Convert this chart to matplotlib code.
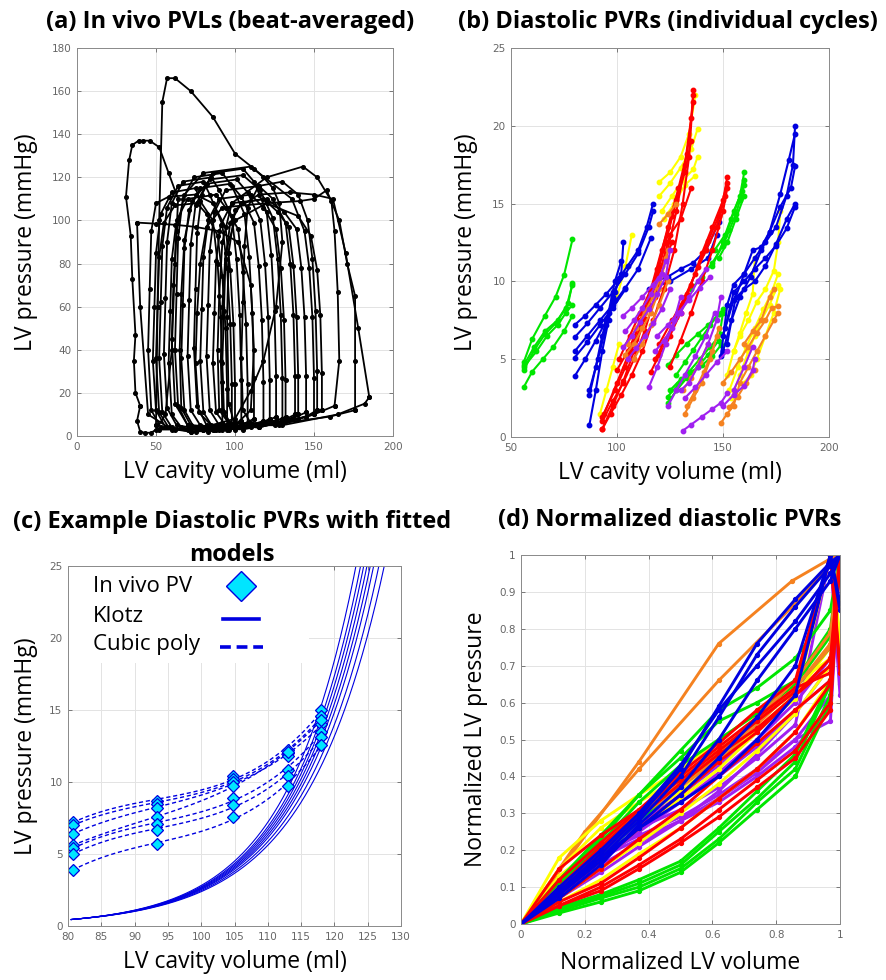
import numpy as np
import matplotlib
matplotlib.use('Agg')
from matplotlib import pyplot as plt
from matplotlib.patches import Rectangle

# ---- (a) beat-averaged PV loops (volume ml, pressure mmHg)
a_vol = [
    [92, 92, 91, 89, 86, 78, 75, 60, 53, 50, 49, 48, 50, 56, 70, 84],
    [98, 98, 97, 95, 92, 84, 80, 64, 57, 54, 53, 52, 54, 60, 75, 90],
    [104, 104, 103, 101, 98, 90, 85, 67, 60, 57, 56, 55, 57, 63, 80, 96],
    [108, 108, 107, 105, 102, 94, 88, 70, 63, 60, 59, 58, 60, 66, 83, 100],
    [112, 112, 111, 109, 106, 98, 92, 74, 67, 64, 63, 62, 64, 70, 87, 104],
    [118, 118, 117, 115, 112, 104, 97, 78, 71, 68, 67, 66, 68, 74, 92, 110],
    [122, 122, 121, 119, 116, 108, 101, 82, 75, 72, 71, 70, 72, 78, 96, 114],
    [126, 126, 125, 123, 120, 112, 105, 86, 79, 76, 75, 74, 76, 82, 100, 118],
    [132, 132, 131, 129, 126, 118, 110, 90, 83, 80, 79, 78, 80, 86, 105, 124],
    [138, 138, 137, 135, 132, 124, 115, 94, 87, 84, 83, 82, 84, 90, 110, 130],
    [145, 145, 144, 142, 139, 131, 120, 98, 91, 88, 87, 86, 88, 94, 115, 136],
    [150, 150, 149, 147, 144, 136, 110, 80, 68, 63, 61, 60, 62, 70, 105, 140],
    [155, 155, 154, 152, 148, 140, 120, 92, 82, 78, 76, 75, 77, 85, 115, 145],
    [163, 166, 165, 163, 161, 152, 143, 120, 98, 92, 90, 89, 90, 96, 125, 150],
    [176, 176, 176, 171, 166, 158, 150, 141, 120, 100, 94, 92, 91, 92, 96, 130, 160],
    [185, 178, 170, 162, 150, 135, 115, 100, 96, 95, 96, 100, 130, 165, 182],
    [40, 37, 36, 37, 35, 34, 31, 33, 35, 39, 42, 46, 52, 58, 64, 62, 60, 56, 50, 47, 43, 40, 38],
    [50, 51, 52, 54, 57, 62, 72, 86, 100, 112, 118, 124, 128, 130, 126, 118, 110, 100, 80, 62, 52],
    [100, 100, 99, 97, 94, 86, 75, 58, 50, 47, 46, 45, 47, 53, 72, 88],
    [152, 152, 151, 149, 146, 140, 130, 115, 108, 106, 105, 104, 105, 110, 128, 145],
    [38, 50, 62, 75, 90, 102, 110, 112, 110, 100, 80, 60, 45, 40],
    [95, 95, 94, 92, 89, 82, 76, 62, 55, 52, 51, 50, 52, 58, 72, 86],
    [130, 130, 129, 127, 124, 116, 105, 84, 73, 68, 66, 65, 66, 72, 95, 118],
    [140, 140, 139, 137, 134, 127, 118, 104, 97, 94, 93, 92, 93, 98, 115, 132],
]
a_prs = [
    [6, 25, 55, 80, 100, 109, 115, 113, 103, 85, 60, 35, 12, 4, 3, 4],
    [5, 24, 52, 78, 98, 112, 118, 116, 106, 88, 62, 36, 11, 4, 2, 3],
    [7, 26, 56, 82, 102, 114, 120, 118, 108, 90, 64, 38, 13, 5, 3, 5],
    [6, 24, 52, 76, 96, 106, 112, 110, 100, 82, 58, 34, 10, 4, 2, 4],
    [8, 27, 57, 83, 103, 116, 122, 120, 110, 92, 66, 40, 14, 5, 3, 5],
    [7, 25, 54, 79, 99, 111, 117, 115, 105, 87, 61, 36, 12, 4, 3, 5],
    [8, 26, 55, 80, 100, 113, 119, 117, 107, 89, 63, 37, 12, 5, 3, 5],
    [9, 28, 58, 84, 104, 118, 124, 122, 112, 94, 68, 41, 14, 5, 3, 6],
    [9, 26, 54, 78, 96, 106, 112, 110, 100, 83, 59, 35, 11, 4, 3, 6],
    [10, 28, 56, 80, 99, 110, 116, 114, 104, 86, 61, 37, 12, 5, 4, 7],
    [11, 28, 55, 78, 96, 104, 110, 108, 98, 81, 57, 34, 11, 5, 4, 8],
    [10, 27, 55, 78, 95, 110, 125, 122, 112, 95, 70, 45, 15, 5, 4, 8],
    [12, 29, 56, 77, 93, 102, 108, 106, 97, 80, 57, 34, 11, 5, 4, 9],
    [14, 35, 67, 95, 109, 120, 125, 120, 108, 90, 65, 40, 12, 6, 5, 10],
    [12, 35, 65, 80, 100, 114, 110, 109, 108, 100, 85, 60, 35, 12, 6, 6, 9],
    [18, 50, 85, 110, 112, 113, 112, 105, 85, 55, 15, 5, 5, 10, 15],
    [14, 20, 35, 47, 73, 93, 111, 128, 135, 137, 137, 137, 134, 122, 110, 80, 40, 10, 3, 1.5, 1.5, 2, 7],
    [5, 60, 100, 155, 166, 166, 160, 148, 131, 124, 120, 115, 108, 90, 60, 35, 21, 8, 4, 3, 3],
    [6, 24, 52, 77, 97, 108, 112, 111, 108, 95, 68, 40, 12, 4, 2, 3],
    [12, 30, 58, 82, 100, 112, 118, 116, 106, 88, 62, 36, 12, 6, 5, 9],
    [99, 98.5, 98, 97, 95, 90, 70, 40, 12, 5, 3, 3, 10, 60],
    [5, 22, 50, 74, 93, 103, 108, 107, 99, 83, 60, 36, 11, 4, 2, 3],
    [8, 27, 56, 82, 101, 114, 121, 119, 109, 91, 66, 40, 13, 5, 3, 6],
    [10, 28, 55, 79, 97, 104, 110, 108, 99, 82, 58, 34, 11, 5, 4, 7],
]

# ---- (b) diastolic PVRs, individual cycles, grouped by colour
green_vol = [
    [56, 62, 67, 72, 76, 79], [56, 60, 65, 70, 75, 79], [56, 60, 66, 71, 75, 79],
    [56, 61, 66, 71, 76, 79], [56, 61, 66, 72, 77, 79],
    [124, 128, 133, 138, 143, 148, 150], [124, 129, 134, 139, 144, 149],
    [124, 128, 133, 138, 143, 148], [125, 130, 135, 140, 145, 149],
    [145, 150, 154, 158, 160], [146, 151, 155, 159, 160], [148, 152, 156, 160],
    [128, 132, 136, 140, 144, 148, 150], [135, 140, 145, 150, 153, 156, 158, 160],
]
green_prs = [
    [4.5, 5.5, 6.5, 7.2, 8.0, 8.5], [3.2, 4.2, 5.0, 5.8, 6.8, 7.8], [4.8, 6.3, 7.8, 9.0, 10.4, 12.7],
    [4.3, 5.6, 6.6, 7.3, 8.3, 9.8], [4.6, 5.8, 6.8, 7.5, 8.6, 9.9],
    [2.2, 3.0, 3.8, 4.5, 5.3, 6.2, 8.0], [2.6, 3.4, 4.2, 5.0, 5.8, 6.6],
    [4.6, 5.3, 6.0, 6.6, 7.2, 7.9], [3.0, 3.7, 4.2, 4.6, 5.2, 5.9],
    [11.0, 12.5, 14.0, 15.5, 17.0], [12.0, 13.0, 14.5, 15.8, 16.5], [11.5, 12.5, 14.0, 15.5],
    [4.0, 4.8, 5.6, 6.4, 7.2, 7.9, 8.2], [9.5, 10.3, 11.2, 12.3, 13.3, 14.3, 15.2, 16.2],
]
yellow_vol = [
    [120, 125, 130, 134, 137], [120, 125, 130, 135, 138], [121, 126, 131, 136, 138],
    [122, 127, 132, 137], [100, 104, 107],
    [152, 155, 158, 162, 166, 170, 174, 176, 177], [153, 157, 161, 165, 169, 173, 176],
    [154, 158, 162, 165, 168, 172, 176], [155, 158, 161, 164, 165],
    [160, 163, 166, 170, 174, 177], [92, 95, 98, 101],
]
yellow_prs = [
    [16.4, 17.0, 18.0, 19.5, 22.0], [15.5, 16.3, 17.3, 18.5, 19.8], [14.5, 15.5, 16.5, 17.2, 18.0],
    [14.0, 15.0, 16.2, 16.8], [9.0, 11.0, 13.0],
    [4.0, 5.5, 6.5, 7.5, 8.7, 9.5, 10.7, 12.5, 14.5], [3.0, 4.5, 5.8, 7.0, 8.2, 9.3, 10.5],
    [2.5, 4.0, 5.5, 6.5, 7.5, 8.5, 9.8], [5.5, 6.7, 8.0, 9.2, 11.5],
    [3.5, 4.0, 5.0, 6.5, 8.0, 9.5], [1.5, 3.0, 4.5, 6.0],
]
orange_vol = [
    [104, 108, 112, 116, 120, 123], [105, 109, 113, 117, 121, 124], [108, 112, 116, 120, 124],
    [120, 124, 128], [132, 136, 140, 144, 147], [133, 137, 141, 145, 148], [131, 135, 139, 143],
    [149, 152, 155, 158, 162, 166, 170, 174, 176], [150, 154, 158, 162, 166, 170, 173, 176],
    [160, 164, 168, 172, 174], [153, 157, 161, 165],
]
orange_prs = [
    [5.3, 6.0, 7.0, 8.0, 9.5, 11.5], [6.0, 7.0, 8.0, 9.0, 10.5, 12.0], [5.0, 6.0, 7.2, 8.5, 10.0],
    [13.7, 14.3, 15.0], [1.5, 2.5, 3.5, 5.0, 6.5], [2.0, 3.0, 4.2, 5.5, 7.0], [3.0, 3.8, 4.8, 6.0],
    [0.9, 1.5, 2.0, 3.5, 4.5, 5.5, 6.5, 7.5, 8.0], [3.5, 4.2, 5.0, 5.8, 6.7, 7.5, 8.3, 8.4],
    [6.0, 6.8, 7.5, 9.0, 9.5], [1.9, 2.6, 3.5, 4.3],
]
purple_vol = [
    [103, 107, 111, 115, 119, 123, 125], [104, 108, 112, 116, 120, 123], [103, 107, 112, 117, 121],
    [105, 109, 113, 117, 121, 125], [115, 119, 123, 127, 130],
    [118, 122, 126, 130, 134, 138, 142], [119, 124, 129, 134, 139, 144],
    [124, 128, 132, 137, 142, 146], [131, 135, 140, 145, 149, 152], [132, 137, 142, 147, 152],
    [130, 134, 138, 143, 147, 149], [150, 155, 160, 164, 165], [155, 160, 164],
]
purple_prs = [
    [5.8, 6.5, 7.4, 8.2, 9.2, 10.3, 12.0], [6.8, 7.5, 8.3, 9.2, 10.2, 11.3], [7.8, 8.3, 9.0, 9.8, 10.5],
    [5.0, 5.7, 6.5, 7.3, 8.2, 9.5], [3.2, 4.5, 6.0, 7.5, 9.0],
    [5.5, 6.2, 7.0, 8.0, 9.0, 10.0, 10.8], [6.5, 7.2, 8.0, 8.8, 9.6, 10.3],
    [2.0, 3.0, 4.0, 5.2, 6.5, 8.0], [0.4, 0.8, 1.3, 1.8, 2.2, 2.8], [2.5, 3.2, 4.0, 4.8, 5.5],
    [3.0, 3.5, 4.5, 6.0, 7.5, 9.0], [2.0, 2.7, 3.3, 4.3, 5.0], [3.0, 4.5, 5.8],
]
blue_vol = [
    [80, 85, 90, 95, 100, 105, 110, 114, 117], [80, 86, 92, 98, 104, 110, 115, 117],
    [80, 86, 92, 98, 104, 110, 116], [80, 86, 92, 98, 104], [80, 85, 90, 95, 99],
    [87, 90, 93, 96, 99, 102, 103], [87, 90, 93, 96, 99, 102], [87, 91, 95, 98, 101],
    [115, 125, 135, 143, 147], [118, 124, 130, 136, 142, 148],
    [149, 152, 155, 160, 165, 170, 175, 180, 183, 184], [150, 154, 158, 163, 168, 172, 177, 181, 184],
    [150, 155, 160, 165, 170, 175, 180, 184], [152, 156, 160, 164, 168, 172, 177, 182, 184],
    [151, 155, 160, 165, 170, 175, 180, 184],
]
blue_prs = [
    [7.2, 7.8, 8.5, 9.2, 10.0, 11.0, 12.0, 13.5, 15.0], [6.4, 7.3, 8.3, 9.3, 10.5, 11.8, 13.5, 14.5],
    [5.5, 6.5, 7.5, 8.5, 9.6, 10.8, 12.8], [5.1, 6.1, 7.2, 8.3, 9.5], [3.9, 5.0, 6.2, 7.5, 8.8],
    [0.8, 3.0, 5.5, 7.5, 9.3, 10.5, 12.5], [2.7, 4.5, 6.5, 8.0, 10.0, 11.3], [3.0, 5.0, 7.2, 9.0, 10.2],
    [9.5, 10.0, 10.8, 11.5, 13.0], [10.0, 10.3, 10.8, 11.2, 12.0, 13.8],
    [5.2, 8.5, 9.8, 10.5, 11.5, 12.5, 13.5, 15.5, 17.5, 20.0], [5.5, 7.5, 9.0, 10.3, 12.0, 13.2, 15.6, 17.8, 19.5],
    [6.5, 8.8, 9.5, 10.0, 11.0, 12.4, 14.0, 15.0], [6.0, 9.0, 10.5, 12.0, 12.2, 13.2, 14.8, 16.0, 17.4],
    [7.0, 9.3, 10.0, 10.8, 11.5, 12.3, 13.4, 14.8],
]
red_vol = [
    [93, 97, 102, 107, 112, 117, 122, 127, 131, 134, 136], [93, 98, 103, 108, 113, 118, 123, 128, 132, 135, 136],
    [93, 99, 104, 109, 114, 119, 124, 129, 133, 136], [93, 98, 103, 108, 113, 118, 123, 128, 132, 135],
    [94, 100, 106, 111, 116, 121, 126], [100, 105, 110, 115, 120, 125, 130, 135], [101, 106, 111, 116, 121, 126],
    [116, 120, 125, 130, 135, 140, 145, 150, 152], [118, 123, 128, 133, 138, 143, 148, 152],
    [120, 126, 132, 137, 142, 147, 151], [125, 130, 135, 140, 145, 150, 152],
]
red_prs = [
    [0.5, 1.5, 2.7, 4.0, 5.5, 7.5, 9.5, 12.0, 15.0, 18.0, 22.3], [1.0, 2.3, 3.5, 5.0, 6.8, 9.0, 11.5, 14.5, 17.5, 20.5, 22.0],
    [1.3, 3.0, 4.5, 6.3, 8.3, 10.8, 13.5, 16.0, 18.2, 21.5], [0.5, 2.0, 3.6, 5.5, 7.6, 10.0, 12.5, 15.2, 17.0, 19.0],
    [1.5, 3.5, 5.5, 7.5, 9.5, 12.0, 14.2], [4.3, 5.5, 7.0, 8.5, 10.5, 13.0, 14.0, 16.0], [5.0, 6.5, 8.0, 9.5, 11.0, 12.5],
    [4.2, 5.3, 6.5, 8.0, 9.8, 11.8, 13.5, 15.2, 16.7], [5.0, 6.3, 7.7, 9.2, 10.9, 12.6, 14.2, 16.3],
    [6.0, 7.5, 9.0, 10.5, 12.0, 13.5, 15.5], [4.5, 6.2, 8.0, 10.0, 12.0, 14.5, 16.0],
]

# ---- (c) example cycles: measured points and Klotz fit parameters
c_vol = [80.7, 93.4, 104.7, 113.0, 118.0]
c_prs = [
    [7.2, 8.7, 10.4, 12.2, 15.0],
    [7.0, 8.5, 10.2, 12.0, 14.6],
    [6.4, 8.2, 10.0, 11.8, 14.0],
    [5.6, 7.6, 9.7, 12.1, 14.3],
    [5.4, 7.1, 8.9, 10.8, 13.5],
    [5.0, 6.7, 8.4, 10.4, 13.1],
    [3.9, 5.7, 7.6, 9.7, 12.6],
]
klotz_p0 = [0.45, 0.45, 0.45, 0.45, 0.45, 0.45, 0.45, 0.45]
klotz_b = [0.0855, 0.087, 0.0885, 0.0895, 0.0905, 0.0915, 0.0925, 0.094]

# ---- (d) normalized diastolic PVRs (most cycles share the same volume samples)
d_vol = [0, 0.12, 0.25, 0.37, 0.5, 0.62, 0.74, 0.86, 0.97, 1.0]
d_purple = [
    [0, .09, .18, .23, .28, .33, .40, .48, .58, 1], [0, .10, .19, .24, .29, .35, .42, .50, .62, 1],
    [0, .08, .16, .22, .28, .34, .41, .50, .55, 1], [0, .11, .21, .26, .31, .37, .45, .54, 1.0, .62],
    [0, .09, .17, .25, .33, .41, .50, .60, .72, 1], [0, .12, .21, .27, .33, .40, .48, .58, .66, 1],
    [0, .07, .14, .21, .28, .36, .46, .57, .70, 1], [0, .10, .20, .27, .35, .43, .52, .62, 1.0, .65],
]
d_yellow = [
    [0, .18, .28, .35, .42, .50, .57, .65, .72, 1], [0, .15, .26, .33, .40, .47, .55, .63, 1.0, .76],
    [0, .10, .20, .28, .36, .44, .53, .62, 1.0, .74], [0, .07, .15, .22, .30, .38, .47, .57, .70, 1],
    [0, .06, .12, .19, .26, .34, .42, .52, .66, 1], [0, .09, .18, .26, .34, .42, .52, .62, .75, 1],
    [0, .13, .22, .30, .38, .45, .53, .61, 1.0, .78],
]
d_green = [
    [0, .03, .06, .09, .14, .22, .31, .40, .60, 1], [0, .035, .07, .10, .15, .23, .33, .42, .62, 1],
    [0, .04, .075, .11, .16, .25, .34, .44, .65, 1], [0, .045, .08, .12, .17, .26, .36, .46, .66, 1],
    [0, .12, .24, .35, .45, .55, .60, .66, .80, 1], [0, .10, .22, .33, .43, .50, .57, .65, .78, 1],
    [0, .11, .23, .35, .47, .58, .64, .72, .85, 1], [0, .08, .18, .28, .38, .46, .55, .64, .75, 1],
]
d_orange = [
    [0, .09, .19, .29, .37, .45, .55, .64, .75, 1], [0, .08, .17, .26, .35, .44, .54, .64, .76, 1],
    [0, .10, .20, .30, .38, .46, .56, .66, .79, 1],
]
d_red = [
    [0, .05, .09, .15, .22, .29, .37, .45, .58, 1], [0, .05, .10, .16, .23, .31, .39, .47, .60, 1],
    [0, .06, .11, .18, .26, .34, .42, .52, .65, 1], [0, .09, .20, .29, .38, .46, .53, .62, .70, 1],
    [0, .10, .21, .30, .40, .48, .56, .64, .68, 1], [0, .12, .22, .31, .41, .49, .58, .66, 1.0, .68],
    [0, .08, .17, .26, .35, .44, .52, .62, .72, 1], [0, .07, .15, .23, .31, .40, .49, .58, .66, 1],
    [0, .15, .24, .31, .39, .47, .55, .63, 1.0, .70],
]
d_blue = [
    [0, .09, .19, .29, .42, .59, .76, .88, .98, 1], [0, .08, .18, .28, .40, .56, .73, .86, .97, 1],
    [0, .10, .20, .30, .43, .58, .70, .82, .95, 1], [0, .07, .16, .27, .37, .50, .66, .80, .93, 1],
    [0, .08, .17, .26, .35, .45, .56, .70, 1.0, .85], [0, .09, .18, .26, .33, .40, .50, .62, 1.0, .87],
]
d_orange_vol_top = [[0, 0.37, 0.62, 0.85, 0.97, 1.0], [0, 0.2, 0.37, 0.62, 0.85, 1.0]]
d_orange_prs_top = [[0, 0.44, 0.76, 0.93, 0.99, 1.0], [0, 0.25, 0.42, 0.66, 0.86, 1.0]]

GREEN, YELLOW, ORANGE = '#00e600', '#ffff00', '#f58220'
PURPLE, BLUE, RED = '#a020f0', '#0000e0', '#ff0000'

groups_b = [
    (GREEN, green_vol, green_prs),
    (YELLOW, yellow_vol, yellow_prs),
    (BLUE, blue_vol, blue_prs),
    (RED, red_vol, red_prs),
    (ORANGE, orange_vol, orange_prs),
    (PURPLE, purple_vol, purple_prs),
]
groups_d = [
    (PURPLE, d_purple), (YELLOW, d_yellow), (GREEN, d_green),
    (ORANGE, d_orange), (RED, d_red), (BLUE, d_blue),
]

FONT = ['Open Sans', 'DejaVu Sans']
W, H = 886, 980


def box(l, t, r, b):
    return [l / W, 1 - b / H, (r - l) / W, (b - t) / H]


def style(ax, xt, yt, xl=None, yl=None):
    ax.set_xticks(xt)
    ax.set_yticks(yt)
    if xl is not None:
        ax.set_xticklabels(xl)
    if yl is not None:
        ax.set_yticklabels(yl)
    ax.grid(True, color='#e3e3e3', lw=0.7)
    ax.set_axisbelow(True)
    ax.tick_params(direction='in', length=3, width=0.6, colors='#666666',
                   labelsize=7.5, top=True, right=True, pad=4)
    for s in ax.spines.values():
        s.set_color('#8a8a8a')
        s.set_linewidth(0.7)


def labels(ax, xl, yl, xpad=6, ypad=10):
    ax.set_xlabel(xl, fontsize=16.5, family=FONT, labelpad=xpad)
    ax.set_ylabel(yl, fontsize=16.5, family=FONT, labelpad=ypad)


fig = plt.figure(figsize=(W / 100, H / 100), dpi=100)

# (a)
ax = fig.add_axes(box(77, 48, 393, 436))
for v, p in zip(a_vol, a_prs):
    ax.plot(v + v[:1], p + p[:1], '-o', color='black', lw=1.3, ms=2.6)
ax.set_xlim(0, 200)
ax.set_ylim(0, 180)
style(ax, range(0, 201, 50), range(0, 181, 20))
labels(ax, 'LV cavity volume (ml)', 'LV pressure (mmHg)')

# (b)
ax = fig.add_axes(box(511, 48, 829, 437))
for col, vv, pp in groups_b:
    for v, p in zip(vv, pp):
        ax.plot(v, p, '-o', color=col, lw=1.5, ms=3.2)
ax.set_xlim(50, 200)
ax.set_ylim(0, 25)
style(ax, range(50, 201, 50), range(0, 26, 5))
labels(ax, 'LV cavity volume (ml)', 'LV pressure (mmHg)')

# (c)
ax = fig.add_axes(box(68, 566, 401, 926))
vgrid = np.linspace(80.5, 130, 300)
for p0, b in zip(klotz_p0, klotz_b):
    ax.plot(vgrid, p0 * np.exp(b * (vgrid - 80.5)), color=BLUE, lw=0.8)
vfit = np.linspace(c_vol[0], c_vol[-1], 100)
for p in c_prs:
    coef = np.polyfit(c_vol, p, 3)
    ax.plot(vfit, np.polyval(coef, vfit), '--', color=BLUE, lw=1.0, dashes=(3, 2))
    ax.plot(c_vol, p, 'D', ms=6, mfc='#00e5ff', mec=BLUE, mew=0.9, ls='none')
ax.set_xlim(80, 130)
ax.set_ylim(0, 25)
style(ax, range(80, 131, 5), range(0, 26, 5))
labels(ax, 'LV cavity volume (ml)', 'LV pressure (mmHg)', ypad=8)
# legend block (white panel, text left, symbol right)
ax.add_patch(Rectangle((0.004, 0.73), 0.72, 0.266, transform=ax.transAxes,
                       facecolor='white', edgecolor='none', zorder=3))
for yy, txt in zip([0.944, 0.861, 0.783], ['In vivo PV', 'Klotz', 'Cubic poly']):
    ax.text(0.075, yy, txt, transform=ax.transAxes, fontsize=16, family=FONT,
            va='center', ha='left', zorder=4)
ax.plot([0.52], [0.944], 'D', ms=15, mfc='#00e5ff', mec=BLUE, mew=1.0,
        transform=ax.transAxes, zorder=4, clip_on=False)
ax.plot([0.465, 0.573], [0.853, 0.853], color=BLUE, lw=2.6, transform=ax.transAxes, zorder=4)
ax.plot([0.456, 0.586], [0.775, 0.775], color=BLUE, lw=2.6, ls='--', dashes=(3, 1.6),
        transform=ax.transAxes, zorder=4)

# (d)
ax = fig.add_axes(box(521, 555, 840, 924))
for v, p in zip(d_orange_vol_top, d_orange_prs_top):
    ax.plot(v, p, '-o', color=ORANGE, lw=2.1, ms=2.8)
for col, curves in groups_d:
    for p in curves:
        ax.plot(d_vol, p, '-o', color=col, lw=2.1, ms=2.8)
ax.set_xlim(0, 1)
ax.set_ylim(0, 1)
style(ax, np.arange(0, 1.01, 0.2), np.arange(0, 1.01, 0.1),
      ['0', '0.2', '0.4', '0.6', '0.8', '1'],
      ['0'] + ['0.%d' % i for i in range(1, 10)] + ['1'])
labels(ax, 'Normalized LV volume', 'Normalized LV pressure', xpad=8, ypad=8)

tkw = dict(ha='center', va='center', fontsize=17, weight='bold', family=FONT)
fig.text(230 / W, 1 - 22 / H, '(a) In vivo PVLs (beat-averaged)', **tkw)
fig.text(668 / W, 1 - 22 / H, '(b) Diastolic PVRs (individual cycles)', **tkw)
fig.text(232 / W, 1 - 522 / H, '(c) Example Diastolic PVRs with fitted', **tkw)
fig.text(232 / W, 1 - 555 / H, 'models', **tkw)
fig.text(670 / W, 1 - 520 / H, '(d) Normalized diastolic PVRs', **tkw)

fig.savefig('out.png', dpi=100)
